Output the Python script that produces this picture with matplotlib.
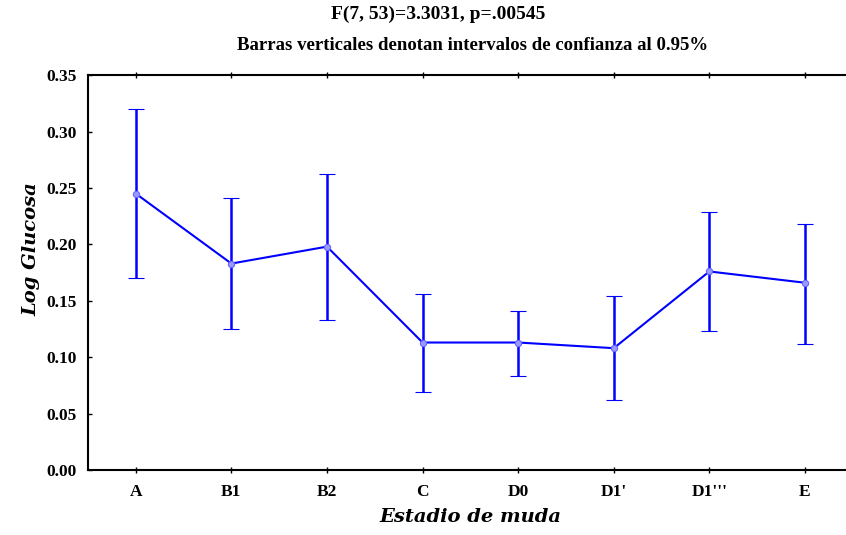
import matplotlib
matplotlib.use("Agg")
import matplotlib.pyplot as plt
import numpy as np

estadios = ["A", "B1", "B2", "C", "D0", "D1'", "D1'''", "E"]
media = [0.245, 0.183, 0.198, 0.113, 0.113, 0.108, 0.176, 0.166]
ic_sup = [0.320, 0.241, 0.262, 0.156, 0.141, 0.154, 0.229, 0.218]
ic_inf = [0.170, 0.125, 0.133, 0.069, 0.083, 0.062, 0.123, 0.112]

plt.rcParams["font.family"] = ["Liberation Serif", "DejaVu Serif"]

fig = plt.figure(figsize=(8.46, 5.35), dpi=100)
ax = fig.add_axes([0.104, 0.1215, 0.904, 0.738])

x = np.arange(len(estadios))
media = np.array(media)
err = [media - np.array(ic_inf), np.array(ic_sup) - media]

ax.errorbar(x, media, yerr=err, color="#0000ff", lw=1.5, elinewidth=1.8,
            capsize=6, capthick=1.8, marker="o", ms=4.5,
            mfc="#9999ff", mec="#6666ff", mew=0.8)

ax.set_xlim(-0.5, 7.5)
ax.set_ylim(0, 0.35)
ax.set_yticks(np.arange(0, 0.351, 0.05))
ax.set_yticklabels(["%.2f" % v for v in np.arange(0, 0.351, 0.05)],
                   fontweight="bold", fontsize=12.5)
ax.set_xticks(x)
ax.set_xticklabels(estadios, fontweight="bold", fontsize=12.5)
ax.spines["right"].set_visible(False)
for s in ["left", "bottom", "top"]:
    ax.spines[s].set_linewidth(1.5)
ax.tick_params(axis="y", direction="in", length=3, width=1, pad=8)
ax.tick_params(axis="x", direction="inout", length=4, width=1, pad=8,
               top=True)

ax.set_ylabel("Log Glucosa", fontsize=14, fontweight="bold", style="italic",
              family="DejaVu Serif")
ax.yaxis.set_label_coords(-0.062, 0.56)
ax.set_xlabel("Estadio de muda", fontsize=14, fontweight="bold",
              style="italic", family="DejaVu Serif", labelpad=6)

fig.text(438 / 846, 1 - 14 / 535, "F(7, 53)=3.3031, p=.00545", ha="center",
         va="center", fontsize=14, fontweight="bold")
fig.text(473 / 846, 1 - 45 / 535,
         "Barras verticales denotan intervalos de confianza al 0.95%",
         ha="center", va="center", fontsize=13.5, fontweight="bold")

fig.savefig("out.png", dpi=100)
